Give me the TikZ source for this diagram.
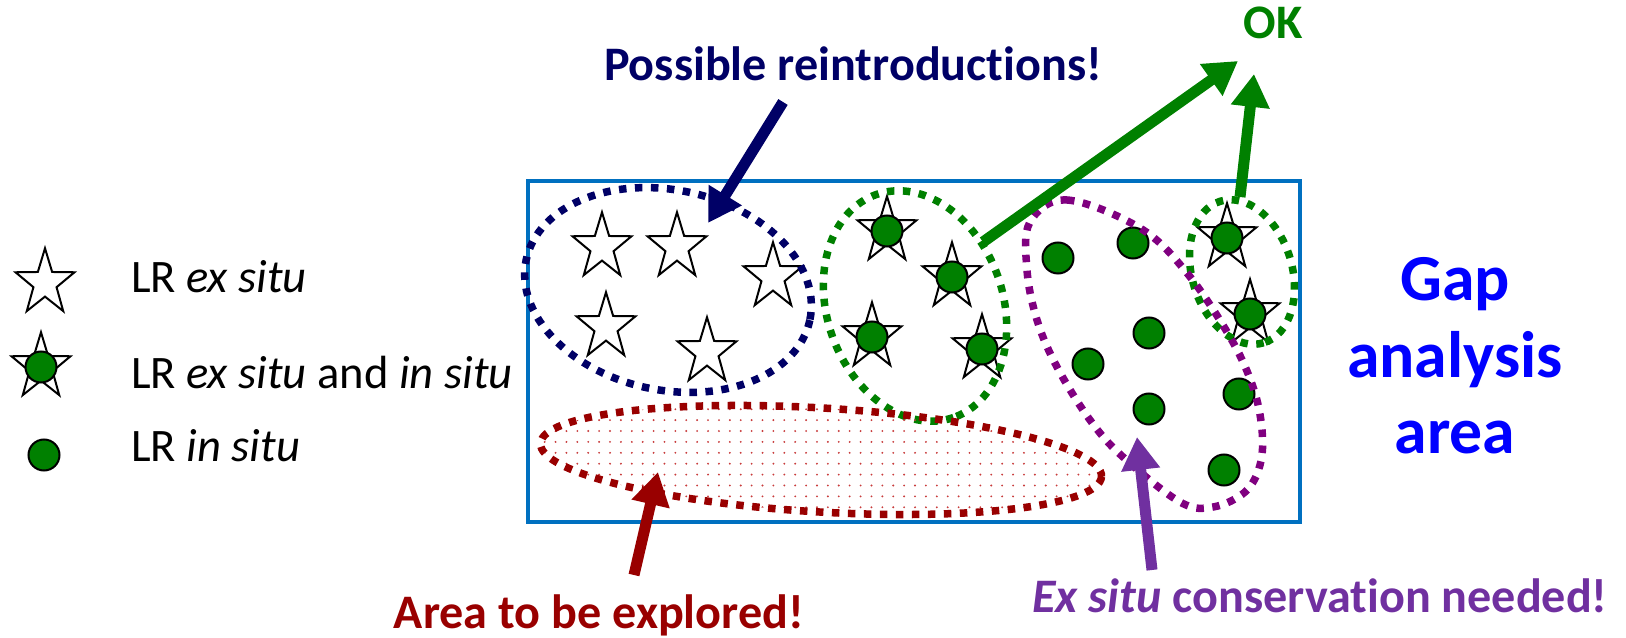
\documentclass[tikz,border=0pt]{standalone}
\usepackage{fontspec}
\setmainfont{Carlito}[Ligatures={NoCommon}]
\usetikzlibrary{shapes.geometric,arrows.meta,patterns.meta}

\newlength{\du}
\setlength{\du}{0.02cm}

\definecolor{rectblue}{RGB}{0,112,192}
\definecolor{navyline}{RGB}{0,0,102}
\definecolor{lrgreen}{RGB}{0,128,0}
\definecolor{explred}{RGB}{153,0,0}
\definecolor{dotred}{RGB}{200,60,60}
\definecolor{exsitupurple}{RGB}{128,0,128}
\definecolor{neededviolet}{RGB}{112,48,160}
\definecolor{gapblue}{RGB}{0,0,255}

\tikzset{
  lrstar/.style={star, star points=5, star point ratio=2.55, draw=black, fill=white,
    line width=2\du, minimum size=62\du, inner sep=0pt, transform shape, yscale=-1.12},
  insitu/.style={circle, draw=black, fill=lrgreen, line width=2\du, minimum size=31\du, inner sep=0pt},
  groupline/.style={line width=7.5\du, dash pattern=on 7.5\du off 8.5\du},
  bigarrow/.style={line width=11\du, -{Triangle[length=18.7pt, width=21pt]}},
  calltext/.style={font=\bfseries\fontsize{27.4}{33}\selectfont, anchor=base},
  legendtext/.style={font=\fontsize{26.5}{32}\selectfont, anchor=base west}
}

\begin{document}
\begin{tikzpicture}
\pgftransformxscale{1.000000}
\pgftransformyscale{-1.000000}
\useasboundingbox (0\du,0\du) rectangle (1626\du,638\du);

% gap analysis area
\draw[rectblue, line width=4\du] (528\du,181\du) rectangle (1300\du,522\du);
\node[gapblue, font=\bfseries\fontsize{37.4}{43.6}\selectfont, align=center, anchor=north, inner sep=0pt] (gap) at (1455\du,257\du) {Gap\\analysis\\area};

% legend
\node[lrstar] (legstar) at (45\du,283\du) {};
\node[legendtext] (lexsitu) at (125\du,293\du) {LR \textit{ex situ}};
\node[lrstar] (legboth) at (41\du,367\du) {};
\node[insitu] (legbothdot) at (41\du,367\du) {};
\node[legendtext] (lboth) at (125\du,389\du) {LR \textit{ex situ} and \textit{in situ}};
\node[insitu] (legdot) at (44\du,455\du) {};
\node[legendtext] (linsitu) at (125\du,461\du) {LR \textit{in situ}};

% LR ex situ
\node[lrstar] (ex1) at (602\du,247\du) {};
\node[lrstar] (ex2) at (677\du,247\du) {};
\node[lrstar] (ex3) at (773\du,277\du) {};
\node[lrstar] (ex4) at (606\du,327\du) {};
\node[lrstar] (ex5) at (707\du,352\du) {};

% LR ex situ and in situ
\node[lrstar] (bothA) at (887\du,231\du) {};
\node[insitu] (bothAdot) at (887\du,231\du) {};
\node[lrstar] (bothB) at (952\du,277\du) {};
\node[insitu] (bothBdot) at (952\du,277\du) {};
\node[lrstar] (bothC) at (872\du,337\du) {};
\node[insitu] (bothCdot) at (872\du,337\du) {};
\node[lrstar] (bothD) at (982\du,349\du) {};
\node[insitu] (bothDdot) at (982\du,349\du) {};
\node[lrstar] (bothE) at (1227\du,238\du) {};
\node[insitu] (bothEdot) at (1227\du,238\du) {};
\node[lrstar] (bothF) at (1250\du,314\du) {};
\node[insitu] (bothFdot) at (1250\du,314\du) {};

% LR in situ
\node[insitu] (in1) at (1058\du,258\du) {};
\node[insitu] (in2) at (1133\du,243\du) {};
\node[insitu] (in3) at (1149\du,333\du) {};
\node[insitu] (in4) at (1088\du,364\du) {};
\node[insitu] (in5) at (1149\du,409\du) {};
\node[insitu] (in6) at (1239\du,394\du) {};
\node[insitu] (in7) at (1224\du,470\du) {};

% groups
\draw[groupline, navyline, rotate around={12:(668\du,290\du)}] (668\du,290\du) ellipse [x radius=145\du, y radius=100\du];
\draw[groupline, lrgreen, rotate around={71:(915\du,306\du)}] (915\du,306\du) ellipse [x radius=118\du, y radius=88\du];
\draw[groupline, lrgreen, rotate around={73:(1242\du,272\du)}] (1242\du,272\du) ellipse [x radius=74\du, y radius=50\du];
\fill[pattern={Dots[distance=6.2pt, radius=0.6pt]}, pattern color=dotred, rotate around={3.4:(821\du,460\du)}] (821\du,460\du) ellipse [x radius=281\du, y radius=52\du];
\draw[groupline, explred, rotate around={3.4:(821\du,460\du)}] (821\du,460\du) ellipse [x radius=281\du, y radius=52\du];
\draw[groupline, exsitupurple] plot[smooth cycle, tension=0.6] coordinates {
  (1030\du,222\du) (1067\du,200\du) (1140\du,228\du) (1187\du,273\du) (1230\du,337\du)
  (1253\du,387\du) (1262\du,430\du) (1260\du,465\du) (1245\du,492\du) (1213\du,507\du)
  (1180\du,502\du) (1123\du,457\du) (1090\du,420\du) (1057\du,367\du) (1037\du,320\du)
  (1027\du,270\du)};

% labels
\node[calltext, navyline] (reintro) at (853\du,81\du) {Possible reintroductions!};
\node[calltext, lrgreen] (ok) at (1273\du,39\du) {OK};
\node[calltext, explred] (explore) at (599\du,628\du) {Area to be explored!};
\node[calltext, neededviolet] (needed) at (1320\du,612\du) {\textit{Ex situ} conservation needed!};

% arrows
\coordinate (reintrotail) at (783\du,102\du);
\coordinate (reintrotip) at (708\du,223\du);
\draw[bigarrow, navyline] (reintrotail) -- (reintrotip);
\coordinate (oktailB) at (983\du,242\du);
\coordinate (oktipB) at (1238\du,61\du);
\draw[bigarrow, lrgreen] (oktailB) -- (oktipB);
\coordinate (oktailE) at (1240\du,197\du);
\coordinate (oktipE) at (1254\du,74\du);
\draw[bigarrow, lrgreen] (oktailE) -- (oktipE);
\coordinate (exploretail) at (634\du,575\du);
\coordinate (exploretip) at (658\du,472\du);
\draw[bigarrow, explred] (exploretail) -- (exploretip);
\coordinate (neededtail) at (1152\du,570\du);
\coordinate (neededtip) at (1137\du,437\du);
\draw[bigarrow, neededviolet] (neededtail) -- (neededtip);
\end{tikzpicture}
\end{document}
